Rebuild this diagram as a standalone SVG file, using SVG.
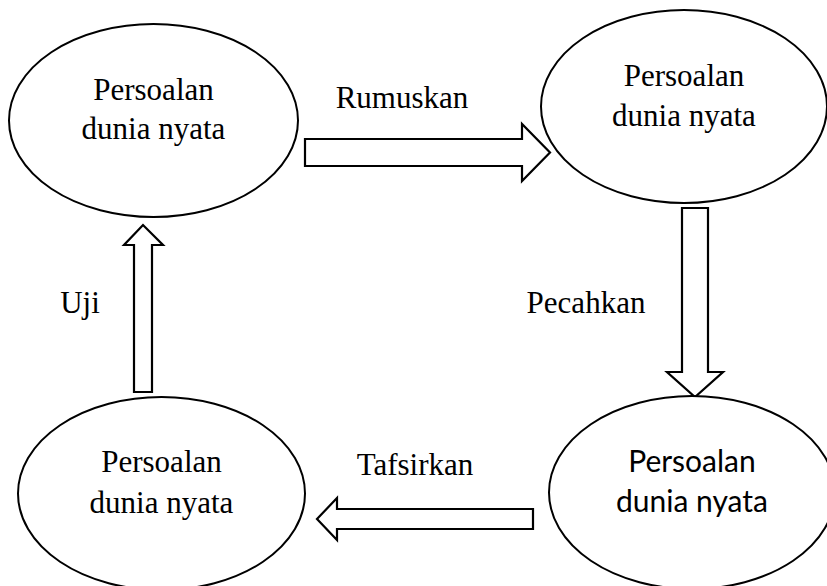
<svg xmlns="http://www.w3.org/2000/svg" width="827" height="586" viewBox="0 0 827 586">
  <style>
    .node { fill: #ffffff; stroke: #000000; stroke-width: 2; }
    .arrow { fill: #ffffff; stroke: #000000; stroke-width: 2.2; stroke-linejoin: miter; }
    .serif { font-family: "Liberation Serif", "Times New Roman", serif; font-size: 31px; fill: #000000; text-anchor: middle; }
    .sans { font-family: Lato, "Liberation Sans", sans-serif; font-size: 30px; fill: #000000; text-anchor: middle; }
  </style>
  <rect width="827" height="586" fill="#ffffff"/>

  <!-- block arrows between the four stages -->
  <g id="connectors">
    <polygon class="arrow" points="305,139 522,139 522,124 550,152.5 522,181 522,166 305,166"/>
    <polygon class="arrow" points="682,208 708,208 708,372 723,372 695,397 667,372 682,372"/>
    <polygon class="arrow" points="533,509 533,529 337,529 337,540 317,519 337,498 337,509"/>
    <polygon class="arrow" points="134,392 152,392 152,245 163,245 143,225 124,245 134,245"/>
    <text class="serif" x="402" y="108">Rumuskan</text>
    <text class="serif" x="586" y="313">Pecahkan</text>
    <text class="serif" x="415" y="475">Tafsirkan</text>
    <text class="serif" x="80" y="313">Uji</text>
  </g>

  <g id="node-top-left">
    <ellipse class="node" cx="153.5" cy="120.5" rx="144.5" ry="96.5"/>
    <text class="serif" x="153.5" y="100">Persoalan</text>
    <text class="serif" x="153.5" y="139">dunia nyata</text>
  </g>

  <g id="node-top-right">
    <ellipse class="node" cx="684" cy="106.5" rx="143" ry="96.5"/>
    <text class="serif" x="684" y="86">Persoalan</text>
    <text class="serif" x="684" y="126">dunia nyata</text>
  </g>

  <g id="node-bottom-left">
    <ellipse class="node" cx="161.5" cy="493.5" rx="143.5" ry="96.5"/>
    <text class="serif" x="161.5" y="472">Persoalan</text>
    <text class="serif" x="161.5" y="513">dunia nyata</text>
  </g>

  <g id="node-bottom-right">
    <ellipse class="node" cx="692" cy="492.5" rx="143" ry="96.5"/>
    <text class="sans" x="692" y="472">Persoalan</text>
    <text class="sans" x="692" y="512">dunia nyata</text>
  </g>
</svg>
